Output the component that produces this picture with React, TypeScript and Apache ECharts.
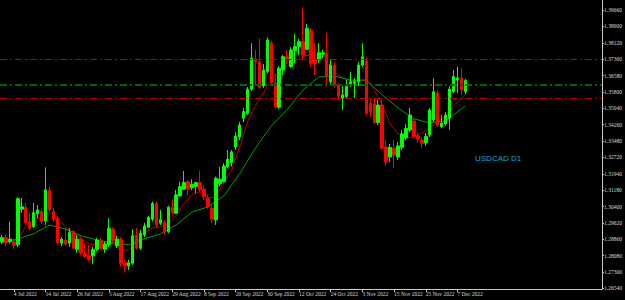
import React, { useEffect, useRef } from "react";
import * as echarts from "echarts";

// ---- data ----
const opens = [
  1.2873, 1.2892, 1.2873, 1.2873, 1.2859, 1.3027, 1.3035, 1.2967, 1.2945, 1.3005,
  1.3016, 1.2972, 1.3118, 1.3016, 1.2985, 1.2867, 1.2882, 1.2867, 1.2921, 1.2838,
  1.2886, 1.2819, 1.2807, 1.2807, 1.2838, 1.2877, 1.2838, 1.2859, 1.2933, 1.2854,
  1.2886, 1.2775, 1.2760, 1.2772, 1.2906, 1.2843, 1.2906, 1.2942, 1.2980, 1.3055,
  1.2961, 1.2964, 1.2921, 1.3035, 1.3008, 1.3090, 1.3122, 1.3157, 1.3129, 1.3134,
  1.3153, 1.3122, 1.3079, 1.3032, 1.2977, 1.3147, 1.3157, 1.3228, 1.3246, 1.3321,
  1.3368, 1.3457, 1.3480, 1.3594, 1.3735, 1.3724, 1.3609, 1.3677, 1.3811, 1.3622,
  1.3509, 1.3685, 1.3747, 1.3700, 1.3776, 1.3795, 1.3818, 1.3782, 1.3870, 1.3732,
  1.3732, 1.3759, 1.3763, 1.3629, 1.3708, 1.3614, 1.3551, 1.3559, 1.3614, 1.3622,
  1.3629, 1.3708, 1.3727, 1.3527, 1.3524, 1.3437, 1.3519, 1.3321, 1.3274, 1.3315,
  1.3274, 1.3319, 1.3364, 1.3401, 1.3444, 1.3373, 1.3354, 1.3340, 1.3378, 1.3449,
  1.3576, 1.3417, 1.3430, 1.3457, 1.3582, 1.3637, 1.3645, 1.3582,
];
const highs = [
  1.2906, 1.2906, 1.2969, 1.2882, 1.3084, 1.3080, 1.3057, 1.3010, 1.3057, 1.3047,
  1.3029, 1.3225, 1.3137, 1.3033, 1.2995, 1.2896, 1.2939, 1.2939, 1.2929, 1.2906,
  1.2898, 1.2868, 1.2859, 1.2849, 1.2892, 1.2892, 1.2873, 1.2985, 1.2944, 1.2901,
  1.2896, 1.2788, 1.2788, 1.2933, 1.2939, 1.2929, 1.2962, 1.2995, 1.3063, 1.3063,
  1.3024, 1.2977, 1.3043, 1.3074, 1.3118, 1.3157, 1.3208, 1.3165, 1.3169, 1.3157,
  1.3209, 1.3142, 1.3095, 1.3047, 1.3181, 1.3228, 1.3244, 1.3307, 1.3307, 1.3393,
  1.3439, 1.3505, 1.3604, 1.3811, 1.3779, 1.3834, 1.3713, 1.3839, 1.3821, 1.3666,
  1.3703, 1.3755, 1.3779, 1.3793, 1.3855, 1.3831, 1.3981, 1.3902, 1.3883, 1.3812,
  1.3811, 1.3779, 1.3858, 1.3732, 1.3722, 1.3623, 1.3609, 1.3637, 1.3675, 1.3647,
  1.3722, 1.3811, 1.3746, 1.3543, 1.3552, 1.3543, 1.3543, 1.3354, 1.3335, 1.3354,
  1.3345, 1.3401, 1.3430, 1.3505, 1.3458, 1.3392, 1.3368, 1.3387, 1.3505, 1.3645,
  1.3590, 1.3472, 1.3486, 1.3609, 1.3685, 1.3700, 1.3693, 1.3642,
];
const lows = [
  1.2863, 1.2854, 1.2863, 1.2840, 1.2849, 1.3010, 1.2953, 1.2929, 1.2939, 1.2986,
  1.2958, 1.2953, 1.3014, 1.2967, 1.2863, 1.2854, 1.2854, 1.2849, 1.2840, 1.2821,
  1.2811, 1.2797, 1.2783, 1.2769, 1.2830, 1.2835, 1.2821, 1.2849, 1.2868, 1.2844,
  1.2756, 1.2728, 1.2741, 1.2764, 1.2835, 1.2835, 1.2896, 1.2937, 1.2969, 1.2942,
  1.2953, 1.2906, 1.2914, 1.3000, 1.3005, 1.3087, 1.3118, 1.3095, 1.3118, 1.3103,
  1.3109, 1.3071, 1.3029, 1.2962, 1.2953, 1.3134, 1.3153, 1.3221, 1.3228, 1.3307,
  1.3354, 1.3439, 1.3472, 1.3585, 1.3614, 1.3595, 1.3600, 1.3670, 1.3614, 1.3504,
  1.3501, 1.3660, 1.3713, 1.3694, 1.3718, 1.3755, 1.3732, 1.3779, 1.3700, 1.3661,
  1.3718, 1.3741, 1.3606, 1.3619, 1.3600, 1.3543, 1.3496, 1.3552, 1.3604, 1.3552,
  1.3609, 1.3699, 1.3472, 1.3463, 1.3430, 1.3425, 1.3307, 1.3231, 1.3250, 1.3222,
  1.3260, 1.3307, 1.3354, 1.3392, 1.3364, 1.3340, 1.3316, 1.3326, 1.3368, 1.3439,
  1.3416, 1.3411, 1.3420, 1.3401, 1.3576, 1.3576, 1.3567, 1.3571,
];
const closes = [
  1.2893, 1.2870, 1.2886, 1.2857, 1.3077, 1.3039, 1.2964, 1.2937, 1.3011, 1.3024,
  1.2969, 1.3118, 1.3024, 1.2980, 1.2870, 1.2886, 1.2863, 1.2917, 1.2843, 1.2886,
  1.2819, 1.2803, 1.2791, 1.2838, 1.2882, 1.2843, 1.2863, 1.2937, 1.2882, 1.2886,
  1.2772, 1.2760, 1.2775, 1.2902, 1.2843, 1.2914, 1.2948, 1.2989, 1.3055, 1.2953,
  1.2977, 1.2921, 1.3037, 1.3011, 1.3095, 1.3134, 1.3153, 1.3122, 1.3145, 1.3153,
  1.3118, 1.3087, 1.3039, 1.2980, 1.3173, 1.3169, 1.3231, 1.3263, 1.3298, 1.3372,
  1.3425, 1.3488, 1.3594, 1.3740, 1.3724, 1.3603, 1.3685, 1.3826, 1.3625, 1.3509,
  1.3693, 1.3747, 1.3735, 1.3779, 1.3795, 1.3818, 1.3755, 1.3881, 1.3716, 1.3713,
  1.3766, 1.3766, 1.3653, 1.3708, 1.3609, 1.3559, 1.3567, 1.3606, 1.3629, 1.3629,
  1.3708, 1.3747, 1.3480, 1.3488, 1.3437, 1.3519, 1.3315, 1.3250, 1.3319, 1.3283,
  1.3326, 1.3383, 1.3409, 1.3472, 1.3370, 1.3359, 1.3338, 1.3371, 1.3496, 1.3582,
  1.3425, 1.3434, 1.3472, 1.3595, 1.3653, 1.3647, 1.3590, 1.36351,
];

// moving averages, read at sampled bars: [bar index, value]
const fastMA: [number, number][] = [
  [0, 1.2892], [2, 1.2882], [4, 1.2882], [6, 1.2948], [8, 1.2981], [10, 1.2986],
  [12, 1.3010], [14, 1.2991], [16, 1.2944], [18, 1.2915], [20, 1.2887], [22, 1.2863],
  [24, 1.2859], [26, 1.2873], [28, 1.2863], [30, 1.2835], [32, 1.2835], [34, 1.2873],
  [36, 1.2915], [38, 1.2939], [40, 1.2944], [42, 1.2958], [44, 1.2995], [46, 1.3057],
  [48, 1.3095], [50, 1.3109], [52, 1.3080], [54, 1.3085], [56, 1.3151], [58, 1.3213],
  [60, 1.3321], [62, 1.3439], [64, 1.3515], [66, 1.3576], [68, 1.3637], [70, 1.3675],
  [72, 1.3703], [74, 1.3727], [76, 1.3751], [78, 1.3755], [80, 1.3751], [82, 1.3722],
  [84, 1.3675], [86, 1.3647], [88, 1.3633], [90, 1.3633], [92, 1.3637], [94, 1.3590],
  [96, 1.3519], [98, 1.3430], [100, 1.3383], [102, 1.3364], [104, 1.3368], [106, 1.3387],
  [108, 1.3411], [110, 1.3439], [112, 1.3467], [114, 1.3515], [116, 1.3548], [117, 1.3567],
];
const slowMA: [number, number][] = [
  [0, 1.2868], [4, 1.2887], [8, 1.2911], [12, 1.2953], [16, 1.2934], [20, 1.2901],
  [24, 1.2882], [28, 1.2868], [32, 1.2859], [36, 1.2887], [40, 1.2911], [44, 1.2953],
  [48, 1.3014], [52, 1.3038], [56, 1.3090], [60, 1.3194], [64, 1.3316], [68, 1.3420],
  [72, 1.3496], [76, 1.3590], [80, 1.3652], [84, 1.3656], [88, 1.3637], [92, 1.3637],
  [96, 1.3567], [100, 1.3505], [104, 1.3454], [108, 1.3434], [112, 1.3446], [116, 1.3501],
  [117, 1.3515],
];

const levelLines = [1.3734, 1.3614, 1.3549];
const levelColors = ["#c00000", "#006400", "#c00000"];

const yTickLabels = [
  1.2654, 1.273, 1.2808, 1.2886, 1.2962, 1.304, 1.3118, 1.3194, 1.3272, 1.3348,
  1.3426, 1.3504, 1.358, 1.3658, 1.3736, 1.3812, 1.389, 1.3966,
];
const xTickLabels = [
  "4 Jul 2022", "14 Jul 2022", "26 Jul 2022", "5 Aug 2022", "17 Aug 2022",
  "29 Aug 2022", "8 Sep 2022", "20 Sep 2022", "30 Sep 2022", "12 Oct 2022",
  "24 Oct 2022", "3 Nov 2022", "15 Nov 2022", "25 Nov 2022", "7 Dec 2022",
];
const firstBarDate = [2022, 5, 29]; // 29 Jun 2022, trading days Mon-Fri
const emptySlots = 34; // chart shift on the right
const symbolTitle = "USDCAD D1";

const MONTHS = ["Jan", "Feb", "Mar", "Apr", "May", "Jun", "Jul", "Aug", "Sep", "Oct", "Nov", "Dec"];

function buildDates(n: number): string[] {
  const out: string[] = [];
  const d = new Date(firstBarDate[0], firstBarDate[1], firstBarDate[2]);
  while (out.length < n) {
    const wd = d.getDay();
    if (wd !== 0 && wd !== 6) out.push(`${d.getDate()} ${MONTHS[d.getMonth()]} ${d.getFullYear()}`);
    d.setDate(d.getDate() + 1);
  }
  return out;
}

export default function App() {
  const ref = useRef<HTMLDivElement>(null);
  useEffect(() => {
    document.body.style.margin = "0";
    if (!ref.current) return;
    const chart = echarts.init(ref.current, null, { renderer: "svg" });
    const n = closes.length;
    const dates = buildDates(n);
    const cats = dates.concat(Array.from({ length: emptySlots }, (_, i) => `_${i}`));
    const tickSet = new Set(xTickLabels);
    const candles = closes.map((c, i) => [opens[i], c, lows[i], highs[i]]);
    const lastClose = closes[n - 1];
    const font = "Liberation Serif";

    chart.setOption({
      animation: false,
      backgroundColor: "#000000",
      title: {
        text: symbolTitle,
        left: 475,
        top: 154,
        padding: 0,
        textStyle: { color: "#1ca6d2", fontSize: 8, fontWeight: "normal", fontFamily: "Liberation Sans" },
      },
      grid: { left: 0, right: 23, top: 0, bottom: 11 },
      xAxis: {
        type: "category",
        data: cats,
        boundaryGap: true,
        axisLine: { lineStyle: { color: "#c8c8c8", width: 1 } },
        axisTick: {
          show: true,
          alignWithLabel: true,
          length: 3,
          interval: (_i: number, v: string) => tickSet.has(v),
          lineStyle: { color: "#c8c8c8" },
        },
        axisLabel: {
          interval: (_i: number, v: string) => tickSet.has(v),
          color: "#d8d8d8",
          fontSize: 5.5,
          fontFamily: font,
          align: "left",
          margin: 2,
          padding: 0,
        },
        splitLine: { show: false },
      },
      yAxis: {
        type: "value",
        position: "right",
        min: 1.26505,
        max: 1.4015,
        axisLine: { show: true, lineStyle: { color: "#c8c8c8", width: 1 } },
        axisTick: { show: true, length: 2, customValues: yTickLabels, lineStyle: { color: "#c8c8c8" } },
        axisLabel: {
          customValues: yTickLabels,
          formatter: (v: number) => v.toFixed(5),
          color: "#d8d8d8",
          fontSize: 5.5,
          fontFamily: font,
          margin: 2,
        },
        splitLine: { show: false },
      },
      series: [
        {
          type: "candlestick",
          data: candles,
          barWidth: 3,
          itemStyle: {
            color: "#00ff00",
            color0: "#ff0000",
            borderColor: "#00ff00",
            borderColor0: "#ff0000",
            borderColorDoji: "#00ff00",
            borderWidth: 1,
          },
          markLine: {
            silent: true,
            symbol: "none",
            precision: 5,
            animation: false,
            data: [
              ...levelLines.map((v, i) => ({
                yAxis: v,
                label: { show: false },
                lineStyle: {
                  color: levelColors[i],
                  width: levelColors[i] === "#006400" ? 2 : 1,
                  type: [7, 3, 2, 3],
                },
              })),
              {
                yAxis: lastClose,
                lineStyle: { opacity: 0, width: 0 },
                label: {
                  show: true,
                  position: "end",
                  distance: 1,
                  formatter: () => lastClose.toFixed(5),
                  backgroundColor: "#ffffff",
                  color: "#000000",
                  fontSize: 5.5,
                  fontFamily: font,
                  padding: [1, 1, 0, 1],
                },
              },
            ],
          },
          z: 3,
        },
        {
          type: "line",
          data: fastMA,
          showSymbol: false,
          symbol: "none",
          connectNulls: true,
          lineStyle: { color: "#c00000", width: 1 },
          z: 2,
        },
        {
          type: "line",
          data: slowMA,
          showSymbol: false,
          symbol: "none",
          connectNulls: true,
          lineStyle: { color: "#00a000", width: 1 },
          z: 2,
        },
      ],
    });
    return () => chart.dispose();
  }, []);
  return <div ref={ref} style={{ width: 625, height: 300, background: "#000" }} />;
}
